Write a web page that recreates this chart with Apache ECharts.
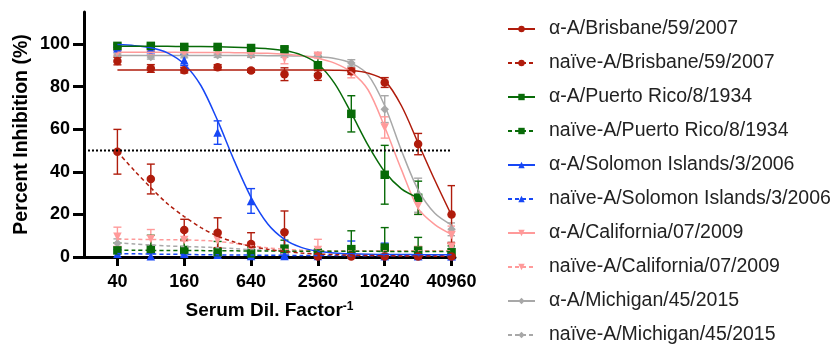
<!DOCTYPE html>
<html>
<head>
<meta charset="utf-8">
<script src="https://cdn.jsdelivr.net/npm/echarts@6/dist/echarts.min.js"></script>
<style>
  html, body { margin: 0; padding: 0; background: #fff; }
  #chart { width: 835px; height: 347px; }
</style>
</head>
<body>
<div id="chart"></div>
<script>
// dilutions of the measured points and of the read-off fit curves
const dilutions = [40, 80, 160, 320, 640, 1280, 2560, 5120, 10240, 20480, 40960]
const curveDilutions = [40, 57, 80, 113, 160, 226, 320, 453, 640, 905, 1280, 1810, 2560, 3620, 5120, 7241, 10240, 14482, 20480, 28963, 40960]
const xTickLabels = [40, 160, 640, 2560, 10240, 40960]
const yTickLabels = [0, 20, 40, 60, 80, 100]

// A/Brisbane/59/2007
const brisAlpha    = [92, 88.5, 87.7, 89.1, 87.5, 85.8, 85.2, 87.2, 81.9, 53, 20]
const brisAlphaErr = [1.8, 1.8, 1.3, 1.2, 0.8, 3, 2.3, 1.5, 2.3, 5, 13.5]
const brisAlphaFit = [87.8, 87.8, 87.8, 87.8, 87.8, 87.8, 87.8, 87.8, 87.8, 87.8, 87.8, 87.8, 87.8, 87.7, 87.5, 86.3, 82.8, 71, 53.5, 36, 19.5]
const brisNaive    = [49.4, 36.6, 12.7, 11.4, 6.1, 11.6, 0.2, 0.2, 0.2, 0.2, 0.2]
const brisNaiveErr = [10.5, 7, 5, 7, 5.3, 10, 0.5, 0.5, 0.5, 0.5, 0.5]
const brisNaiveFit = [49.4, 40.5, 32.5, 25, 19, 13.8, 9.8, 7, 5, 3.6, 2.6, 1.9, 1.4, 1.1, 0.9, 0.7, 0.6, 0.5, 0.5, 0.4, 0.4]

// A/Puerto Rico/8/1934
const prAlpha    = [99.1, 99.1, 98.6, 98.6, 98.1, 97.5, 90, 67.2, 38.6, 27.8, null]
const prAlphaErr = [0.8, 0.8, 0.7, 0.7, 0.8, 1, 4, 8.5, 13.8, 7.8, null]
const prAlphaFit = [98.9, 98.9, 98.9, 98.9, 98.8, 98.8, 98.7, 98.5, 98.2, 97.8, 96.9, 94.9, 90.6, 81.5, 67.5, 52.5, 40, 32, 27.8, null, null]
const prNaive    = [3.1, 3.7, 3.3, 2.3, 1.7, 3.9, 1.7, 3.7, 4.4, 3, 2.2]
const prNaiveErr = [3.5, 6.5, 5, 5, 3, 4, 2, 8.6, 9.4, 6.2, 3]
const prNaiveFit = [3.2, 3.2, 3.1, 3.1, 3, 3, 2.9, 2.9, 2.8, 2.8, 2.8, 2.7, 2.7, 2.7, 2.7, 2.7, 2.6, 2.6, 2.6, 2.6, 2.6]

// A/Solomon Islands/3/2006
const solAlpha    = [98, 97.5, 92.4, 58.4, 26.3, 1, 1, 1.5, 0.5, 0.5, 0.3]
const solAlphaErr = [1, 1, 2.5, 5.5, 5.8, 11, 1, 6, 6, 1, 1]
const solAlphaFit = [99.7, 99.2, 98.2, 95.8, 90.5, 80.5, 64, 45, 28, 15.5, 8.3, 4.5, 2.7, 1.9, 1.5, 1.3, 1.2, 1.2, 1.1, 1.1, 1.1]
const solNaive    = [1.5, 0.3, 1.5, 1, 0.5, 0.5, 0.5, 1, 0.5, 0.5, 0.5]
const solNaiveErr = [2, 1.5, 2, 1, 1, 1, 1, 1, 1, 1, 1]
const solNaiveFit = [1.6, 1.5, 1.4, 1.3, 1.2, 1.1, 1, 0.9, 0.9, 0.8, 0.8, 0.7, 0.7, 0.7, 0.6, 0.6, 0.6, 0.6, 0.6, 0.6, 0.6]

// A/California/07/2009
const calAlpha    = [95.8, 96, 95.8, 96, 95.2, 93.2, 94.5, 86.1, 60.8, 24, 10.3]
const calAlphaErr = [1, 1, 1, 1, 1, 2.5, 1, 2, 5, 4, 4.2]
const calAlphaFit = [96.1, 96.1, 96.1, 96.1, 96, 96, 96, 95.9, 95.8, 95.6, 95.2, 94.5, 93.3, 91, 86.8, 78.5, 61, 41, 22.8, 15.2, 10.6]
const calNaive    = [9.5, 8.4, 8, 8, 4, 3, 3.3, 2.5, 2.5, 3, 4.8]
const calNaiveErr = [4.5, 4.5, 4, 4, 3, 2, 5, 2, 2, 2, 2]
const calNaiveFit = [8.3, 8.3, 8.2, 8.1, 8, 7.8, 7.3, 6.4, 5.3, 4.3, 3.6, 3.2, 3, 2.9, 2.9, 2.9, 2.9, 2.9, 2.9, 2.9, 2.9]

// A/Michigan/45/2015
const micAlpha    = [94.7, 93.9, 94.5, 94.7, 94.7, 94.7, 94.7, 91.1, 69.4, 29, 13]
const micAlphaErr = [1, 1, 1, 1, 1, 1, 1, 1.5, 6.3, 8, 3]
const micAlphaFit = [94.6, 94.6, 94.6, 94.6, 94.6, 94.6, 94.6, 94.6, 94.6, 94.5, 94.5, 94.3, 94, 93.2, 91, 85.5, 71, 50, 31.5, 20.5, 15]
const micNaive    = [6.5, 3.5, 2.5, 2, 2, 1.5, 1.5, 1.5, 1.5, 1.5, 4]
const micNaiveErr = [2, 2, 2, 2, 2, 2, 2, 2, 2, 2, 3]
const micNaiveFit = [6.6, 6.1, 5.6, 5.2, 4.9, 4.7, 4.4, 3.9, 3.4, 3.1, 2.9, 2.8, 2.8, 2.7, 2.7, 2.7, 2.7, 2.7, 2.7, 2.7, 2.7]

const cutoff = 50

const FONT = '"Liberation Sans", Arial, Helvetica, sans-serif'
const RED = '#b01c0c', GREEN = '#086b08', BLUE = '#1747f5', PINK = '#ff9a9a', GRAY = '#a8a8a8'

const strains = [
  { name: 'α-A/Brisbane/59/2007', color: RED, symbol: 'circle', size: 8.5, rot: 0, dash: false, y: brisAlpha, err: brisAlphaErr, fit: brisAlphaFit },
  { name: 'naïve-A/Brisbane/59/2007', color: RED, symbol: 'circle', size: 8.5, rot: 0, dash: true, y: brisNaive, err: brisNaiveErr, fit: brisNaiveFit },
  { name: 'α-A/Puerto Rico/8/1934', color: GREEN, symbol: 'rect', size: 8.5, rot: 0, dash: false, y: prAlpha, err: prAlphaErr, fit: prAlphaFit },
  { name: 'naïve-A/Puerto Rico/8/1934', color: GREEN, symbol: 'rect', size: 8.5, rot: 0, dash: true, y: prNaive, err: prNaiveErr, fit: prNaiveFit },
  { name: 'α-A/Solomon Islands/3/2006', color: BLUE, symbol: 'triangle', size: 8.5, rot: 0, dash: false, y: solAlpha, err: solAlphaErr, fit: solAlphaFit },
  { name: 'naïve-A/Solomon Islands/3/2006', color: BLUE, symbol: 'triangle', size: 8.5, rot: 0, dash: true, y: solNaive, err: solNaiveErr, fit: solNaiveFit },
  { name: 'α-A/California/07/2009', color: PINK, symbol: 'triangle', size: 8.5, rot: 180, dash: false, y: calAlpha, err: calAlphaErr, fit: calAlphaFit },
  { name: 'naïve-A/California/07/2009', color: PINK, symbol: 'triangle', size: 8.5, rot: 180, dash: true, y: calNaive, err: calNaiveErr, fit: calNaiveFit },
  { name: 'α-A/Michigan/45/2015', color: GRAY, symbol: 'diamond', size: 8.5, rot: 0, dash: false, y: micAlpha, err: micAlphaErr, fit: micAlphaFit },
  { name: 'naïve-A/Michigan/45/2015', color: GRAY, symbol: 'diamond', size: 8.5, rot: 0, dash: true, y: micNaive, err: micNaiveErr, fit: micNaiveFit }
]
// bottom -> top
const drawOrder = [9, 8, 7, 6, 5, 4, 3, 2, 1, 0].map(i => strains[i])

const curveSeries = drawOrder.map(s => ({
  type: 'line', name: s.name,
  data: curveDilutions.map((d, i) => [d, s.fit[i]]).filter(p => p[1] != null),
  showSymbol: false, symbol: s.symbol, symbolSize: s.size, symbolRotate: s.rot,
  smooth: 0.3,
  lineStyle: { color: s.color, width: 1.5, type: s.dash ? [4, 3] : 'solid' },
  itemStyle: { color: s.color },
  silent: true
}))

const errSeries = drawOrder.map(s => ({
  type: 'custom', name: s.name, clip: true, silent: true,
  encode: { x: 0, y: 1 },
  data: dilutions.map((d, i) => [d, s.y[i], s.err[i]]).filter(p => p[1] != null),
  renderItem(params, api) {
    const x = api.value(0), v = api.value(1), e = api.value(2)
    const hi = api.coord([x, v + e]), lo = api.coord([x, v - e])
    const w = 4
    const style = { stroke: s.color, lineWidth: 1.4 }
    return { type: 'group', children: [
      { type: 'line', shape: { x1: hi[0], y1: hi[1], x2: lo[0], y2: lo[1] }, style },
      { type: 'line', shape: { x1: hi[0] - w, y1: hi[1], x2: hi[0] + w, y2: hi[1] }, style },
      { type: 'line', shape: { x1: lo[0] - w, y1: lo[1], x2: lo[0] + w, y2: lo[1] }, style }
    ] }
  }
}))

const pointSeries = drawOrder.map(s => ({
  type: 'scatter', name: s.name,
  data: dilutions.map((d, i) => [d, s.y[i]]).filter(p => p[1] != null),
  symbol: s.symbol, symbolSize: s.size, symbolRotate: s.rot,
  itemStyle: { color: s.color, opacity: 1 },
  silent: true
}))

const cutoffSeries = {
  type: 'line', data: [[20, cutoff], [40960, cutoff]], symbol: 'none', silent: true,
  lineStyle: { color: '#000', width: 2, type: [2, 2] }
}

const chart = echarts.init(document.getElementById('chart'), null, { renderer: 'canvas' })
chart.setOption({
  animation: false,
  backgroundColor: '#fff',
  grid: { left: 84, right: 380, top: 12, bottom: 90 },
  legend: {
    orient: 'vertical', left: 507, top: 19, padding: 0,
    itemWidth: 27, itemHeight: 8, itemGap: 14,
    selectedMode: false,
    data: strains.map(s => s.name),
    textStyle: { fontFamily: FONT, fontSize: 19.5, color: '#222', lineHeight: 20, padding: [0, 0, 0, 9] }
  },
  xAxis: {
    type: 'log', logBase: 2, min: 20, max: 44000,
    axisLine: { onZero: false, lineStyle: { color: '#000', width: 3 } },
    axisTick: { length: 9, lineStyle: { color: '#000', width: 3 }, customValues: xTickLabels },
    axisLabel: { customValues: xTickLabels, margin: 16, fontFamily: FONT, fontSize: 18, fontWeight: 'bold', color: '#000',
      formatter: v => String(Math.round(v)) },
    splitLine: { show: false }, minorTick: { show: false },
    name: 'Serum Dil. Factor{sup|-1}', nameLocation: 'middle', nameGap: 44,
    nameTextStyle: { fontFamily: FONT, fontSize: 19, fontWeight: 'bold', color: '#000',
      rich: { sup: { fontFamily: FONT, fontSize: 12, fontWeight: 'bold', color: '#000', verticalAlign: 'top' } } }
  },
  yAxis: {
    type: 'value', min: 0, max: 115,
    axisLine: { show: true, lineStyle: { color: '#000', width: 3 } },
    axisTick: { show: true, length: 11, lineStyle: { color: '#000', width: 3 }, customValues: yTickLabels },
    axisLabel: { customValues: yTickLabels, margin: 14, fontFamily: FONT, fontSize: 18, fontWeight: 'bold', color: '#000' },
    splitLine: { show: false },
    name: 'Percent Inhibition (%)', nameLocation: 'middle', nameGap: 52,
    nameTextStyle: { fontFamily: FONT, fontSize: 19.5, fontWeight: 'bold', color: '#000' }
  },
  series: [...curveSeries, cutoffSeries, ...errSeries, ...pointSeries]
})
</script>
</body>
</html>
